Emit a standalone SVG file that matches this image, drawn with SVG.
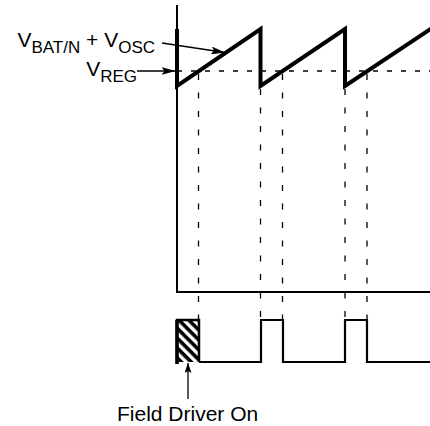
<svg xmlns="http://www.w3.org/2000/svg" width="430" height="426" viewBox="0 0 430 426">
<style>
text{font-family:"Liberation Sans",Arial,sans-serif;font-size:21px;fill:#000}
.sub{font-size:17px}
.axis{fill:none;stroke:#000;stroke-width:2}
.saw{fill:none;stroke:#000;stroke-width:4;stroke-linejoin:miter}
.vdash{fill:none;stroke:#000;stroke-width:1.3;stroke-dasharray:6 12.5}
.hdash{fill:none;stroke:#000;stroke-width:1.3;stroke-dasharray:5 9}
.pulse{fill:none;stroke:#000;stroke-width:2.2}
.lead{fill:none;stroke:#000;stroke-width:1.3}
</style>
<defs>
<pattern id="hatch" patternUnits="userSpaceOnUse" width="7" height="7" patternTransform="rotate(45)">
<rect x="0" y="0" width="7" height="3.6" fill="#000"/>
</pattern>
<marker id="ah" viewBox="0 0 14 8" refX="14" refY="4" markerWidth="14" markerHeight="8" markerUnits="userSpaceOnUse" orient="auto">
<path d="M0,0 L14,4 L0,8 L3,4 Z" fill="#000"/>
</marker>
<marker id="ahs" viewBox="0 0 10 7" refX="10" refY="3.5" markerWidth="10" markerHeight="7" markerUnits="userSpaceOnUse" orient="auto">
<path d="M0,0 L10,3.5 L0,7 L2,3.5 Z" fill="#000"/>
</marker>
</defs>
<g id="connectors">
<path id="axes" class="axis" d="M177,5 V292 H430"/>
<path id="vreg-line" class="hdash" d="M177,71 H430"/>
<g id="guides">
<path class="vdash" d="M198.5,74 V319"/>
<path class="vdash" d="M260.5,89 V319"/>
<path class="vdash" d="M282.5,74 V319"/>
<path class="vdash" d="M345,89 V319"/>
<path class="vdash" d="M367,74 V319"/>
</g>
<path id="sawtooth" class="saw" d="M177,29 L177,86 L260.5,29 L260.5,86 L345,29 L345,86 L432,28"/>
<path id="pulses" class="pulse" d="M199,362 H261 V320 H283 V362 H345 V320 H367 V362 H430"/>
<path id="arrow-vbat" class="lead" d="M162,43 L225,52.5" marker-end="url(#ah)"/>
<path id="arrow-vreg" class="lead" d="M137,71 L175.5,71" marker-end="url(#ah)"/>
<path id="arrow-field" class="lead" d="M188,399 L188,363" marker-end="url(#ahs)"/>
</g>
<g id="field-driver-box">
<rect x="177" y="320" width="22" height="42" fill="url(#hatch)"/>
<path d="M177,364 V320 H199 V362" fill="none" stroke="#000" stroke-width="2.5"/>
<path d="M177,320 V364" fill="none" stroke="#000" stroke-width="3.5"/>
</g>
<g id="label-vbat">
<text x="155" y="47" text-anchor="end">V<tspan class="sub" dy="5.5">BAT/N</tspan><tspan dy="-5.5"> + V</tspan><tspan class="sub" dy="5.5">OSC</tspan></text>
</g>
<g id="label-vreg">
<text x="137" y="76" text-anchor="end">V<tspan class="sub" dy="5.5">REG</tspan></text>
</g>
<g id="label-field">
<text x="117" y="421">Field Driver On</text>
</g>
</svg>
